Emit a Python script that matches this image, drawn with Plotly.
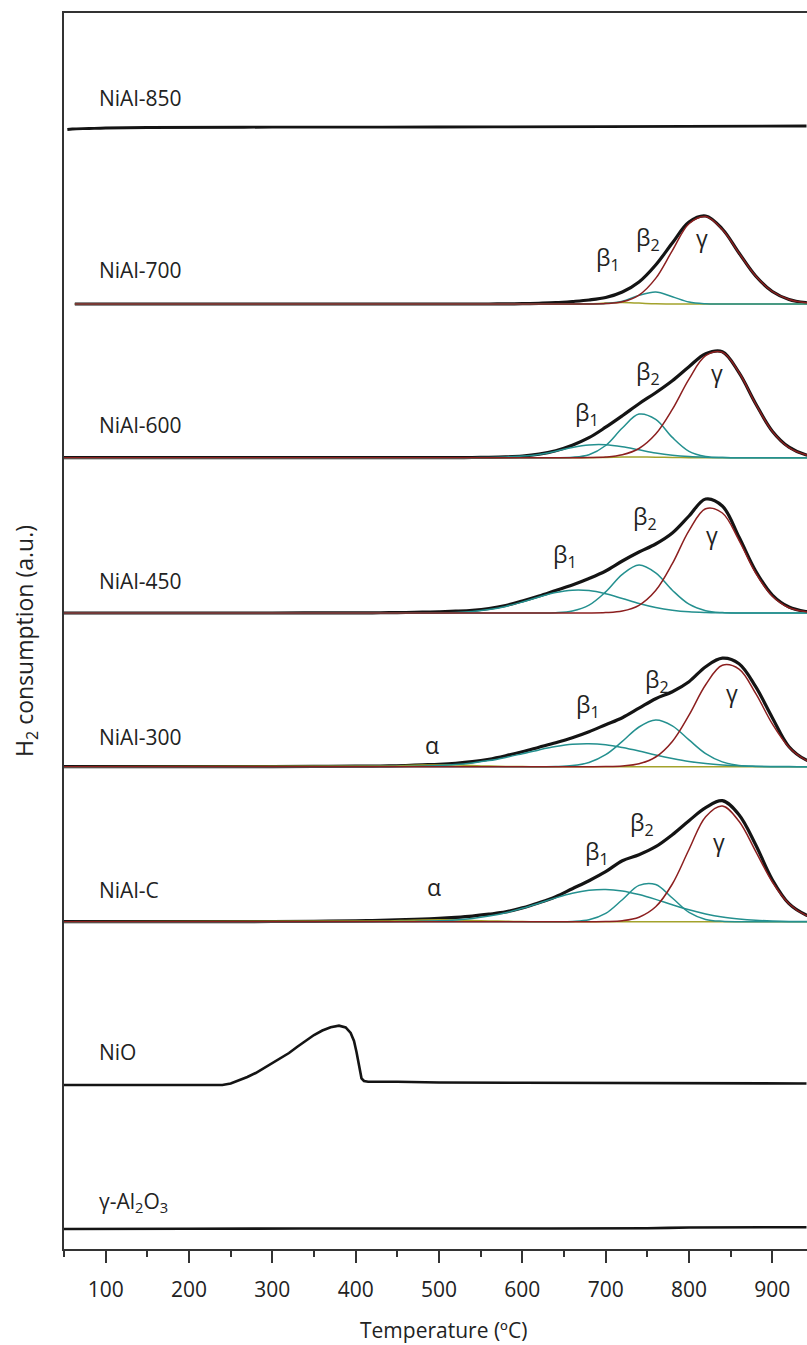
import plotly.graph_objects as go

# ---------------- data ----------------
# temperature grid (°C) of the deconvoluted TPR region
T_fit = [440, 460, 480, 500, 520, 540, 560, 580, 600, 620, 640, 660, 680, 700,
         720, 740, 760, 780, 800, 820, 840, 860, 880, 900, 920, 940, 960]
# low-temperature part of the measured profiles
T_low = [50, 100, 150, 200, 250, 300, 350, 400, 420]

# vertical offsets of the stacked profiles (a.u.)
off_al2o3, off_nio, off_c, off_300, off_450, off_600, off_700, off_850 = 20, 164, 327.3, 482.3, 636, 791.3, 945, 1121.5

# NiAl-C
c_low = [0, 0, 0, 0, 0.1, 0.2, 0.4, 0.8, 1.1]
c_total = [1.5, 2, 2.6, 3.3, 4.3, 5.6, 7.5, 9.8, 13.8, 19, 25, 33, 41, 50, 61, 67, 75, 87, 101, 114, 121, 107, 77, 42, 18, 7, 2]
c_alpha = [0.8, 1.3, 1.7, 1.9, 1.7, 1.3, 0.8, 0.4, 0.15, 0, 0, 0, 0, 0, 0, 0, 0, 0, 0, 0, 0, 0, 0, 0, 0, 0, 0]
c_beta1 = [0.07, 0.17, 0.39, 0.85, 1.7, 3.2, 5.6, 8.9, 13.4, 18.5, 23.8, 28.4, 31.4, 32.3, 30.7, 27.1, 22.3, 16.9, 11.9, 7.8, 4.7, 2.7, 1.4, 0.7, 0.3, 0.1, 0]
c_beta2 = [0, 0, 0, 0, 0, 0, 0, 0, 0, 0, 0, 0.3, 1.9, 8.3, 22, 36.3, 37.2, 23.7, 9.3, 2.3, 0.4, 0, 0, 0, 0, 0, 0]
c_gamma = [0, 0, 0, 0, 0, 0, 0, 0, 0, 0, 0, 0, 0, 0.2, 1, 4.5, 14.9, 37.7, 72.2, 105, 115.7, 100.5, 70.4, 39.7, 18, 6.6, 1.9]

# NiAl-300
n300_low = [0, 0, 0, 0, 0.1, 0.15, 0.3, 0.5, 0.6]
n300_total = [0.8, 1.2, 1.8, 2.4, 3.4, 5, 7.5, 11, 15, 19.5, 24, 29, 35, 42, 49, 58.5, 68, 75, 85, 100, 108.5, 103, 80, 49, 20, 7, 2]
n300_alpha = [0.6, 1.1, 1.6, 1.8, 1.6, 1.1, 0.6, 0.3, 0.1, 0, 0, 0, 0, 0, 0, 0, 0, 0, 0, 0, 0, 0, 0, 0, 0, 0, 0]
n300_beta1 = [0.1, 0.25, 0.55, 1.1, 2.1, 3.8, 6.1, 9.3, 13, 16.8, 20.1, 22.4, 23, 21.9, 19.2, 15.7, 11.8, 8.3, 5.3, 3.2, 1.8, 0.9, 0.4, 0.2, 0.1, 0, 0]
n300_beta2 = [0, 0, 0, 0, 0, 0, 0, 0, 0, 0, 0.2, 1.1, 4.2, 12, 25.3, 39.7, 46.7, 40.9, 26.8, 13.1, 4.8, 1.3, 0.3, 0, 0, 0, 0]
n300_gamma = [0, 0, 0, 0, 0, 0, 0, 0, 0, 0, 0, 0, 0, 0.1, 0.7, 2.9, 9.7, 25.3, 51.6, 82, 101.4, 97.6, 73.3, 42.8, 19.5, 6.9, 1.9]

# NiAl-450
n450_low = [0, 0, 0, 0, 0, 0, 0.05, 0.1, 0.2]
n450_total = [0.3, 0.5, 0.8, 1.2, 1.8, 2.7, 4.5, 7.5, 12, 17, 22.5, 28, 34.5, 42, 52, 61, 69, 80, 97, 114, 107, 76, 42, 18, 6, 1.5, 0.3]
n450_beta1 = [0, 0, 0.1, 0.2, 0.6, 1.6, 3.5, 6.6, 11, 16, 20.4, 22.8, 22.4, 19.2, 14.5, 9.5, 5.5, 2.8, 1.2, 0.5, 0.2, 0, 0, 0, 0, 0, 0]
n450_beta2 = [0, 0, 0, 0, 0, 0, 0, 0, 0, 0, 0.3, 2, 7.8, 21.1, 38.7, 48, 40.2, 22.8, 8.8, 2.3, 0.4, 0, 0, 0, 0, 0, 0]
n450_gamma = [0, 0, 0, 0, 0, 0, 0, 0, 0, 0, 0, 0, 0, 0.4, 2, 7.7, 22.4, 49.3, 82.4, 104.2, 100, 72.7, 40, 16.8, 5.3, 1.3, 0.2]

# NiAl-600
n600_low = [0, 0, 0, 0, 0, 0, 0, 0, 0]
n600_total = [0, 0, 0, 0, 0.1, 0.2, 0.4, 0.8, 1.6, 3.5, 7, 12.5, 20, 30.5, 42, 54, 65, 77, 91, 104, 106, 85, 54, 26.5, 10.5, 3, 0.7]
n600_alpha = [0, 0, 0, 0, 0, 0, 0, 0, 0, 0, 0, 0, 0, 0.3, 0.6, 0.7, 0.5, 0.2, 0, 0, 0, 0, 0, 0, 0, 0, 0]
n600_beta1 = [0, 0, 0, 0, 0, 0, 0.3, 0.8, 1.6, 3.3, 6.5, 10.3, 12.8, 13, 11, 7.9, 4.8, 2.5, 1.1, 0.4, 0.1, 0, 0, 0, 0, 0, 0]
n600_beta2 = [0, 0, 0, 0, 0, 0, 0, 0, 0, 0, 0, 0.4, 3, 12.2, 29.7, 43.6, 38.4, 20.3, 6.4, 1.2, 0.1, 0, 0, 0, 0, 0, 0]
n600_gamma = [0, 0, 0, 0, 0, 0, 0, 0, 0, 0, 0, 0, 0.2, 0.7, 2.9, 9.2, 23.6, 48.3, 78.6, 102, 105.4, 85.2, 53.7, 26.3, 10, 3, 0.7]

# NiAl-700
n700_low = [0, 0, 0, 0, 0, 0, 0, 0, 0]
n700_start = 63
n700_total = [0, 0, 0, 0, 0, 0, 0, 0.1, 0.3, 0.7, 1.3, 2.5, 4, 6.5, 12, 22, 39, 61, 82, 88, 75, 51, 28, 12.5, 4.5, 1.3, 0.3]
n700_beta1 = [0, 0, 0, 0, 0, 0, 0, 0, 0, 0, 0, 0, 0.2, 0.9, 1.5, 0.9, 0.2, 0, 0, 0, 0, 0, 0, 0, 0, 0, 0]
n700_beta2 = [0, 0, 0, 0, 0, 0, 0, 0, 0, 0, 0, 0, 0, 0.4, 2.7, 8.6, 12, 7.3, 1.9, 0.2, 0, 0, 0, 0, 0, 0, 0]
n700_gamma = [0, 0, 0, 0, 0, 0, 0, 0, 0, 0, 0, 0, 0, 0.4, 2.2, 8.9, 25.6, 53.4, 80.3, 87.4, 74.4, 50.9, 28, 12.5, 4.5, 1.3, 0.3]

# NiAl-850 (flat)
n850_T = [54, 60, 80, 100, 150, 300, 500, 700, 941]
n850_h = [-2, -1.5, -1, -0.5, 0, 0.3, 0.5, 0.8, 1.5]

# NiO
nio_T = [50, 200, 240, 250, 260, 270, 280, 290, 300, 310, 320, 330, 340, 350, 360, 370, 380,
         388, 394, 398, 401, 404, 407, 410, 415, 450, 500, 600, 700, 800, 941]
nio_h = [0, 0, 0, 1.5, 4.5, 8, 12, 17, 21.5, 26.8, 32, 38.2, 44, 50, 54.5, 57.8, 59.3,
         57.5, 52, 44, 33, 20, 6.7, 4, 3.3, 3.2, 2.5, 2.2, 2, 1.8, 1.5]

# gamma-Al2O3
al_T = [50, 200, 400, 600, 750, 800, 941]
al_h = [0, 0.3, 0.5, 0.5, 0.8, 1.5, 1.8]

# labels
sample_names = ["NiAl-850", "NiAl-700", "NiAl-600", "NiAl-450", "NiAl-300", "NiAl-C", "NiO",
                "γ-Al<sub>2</sub>O<sub>3</sub>"]
sample_label_y = [1151, 979, 824, 668, 512, 359, 197, 47]
peak_labels = ["β<sub>1</sub>", "β<sub>2</sub>", "γ",
               "β<sub>1</sub>", "β<sub>2</sub>", "γ",
               "β<sub>1</sub>", "β<sub>2</sub>", "γ",
               "α", "β<sub>1</sub>", "β<sub>2</sub>", "γ",
               "α", "β<sub>1</sub>", "β<sub>2</sub>", "γ"]
peak_label_T = [702.8, 750.8, 815.6,
                677.6, 750.8, 833.6,
                651, 747, 827.6,
                491.6, 678.8, 761.6, 851.6,
                494, 689.6, 743.6, 836]
peak_label_y = [991, 1011, 1011,
                836, 877, 876,
                694, 732, 714,
                504, 544, 569, 556,
                362, 397, 426, 407]

# ---------------- styles ----------------
BLACK = "#141414"
RED = "#8c1f1f"
TEAL = "#24908f"
OLIVE = "#a3a22c"
FONT = "Open Sans"

fig = go.Figure()


def add_line(x, y, color, width, shape="spline"):
    fig.add_trace(go.Scatter(x=x, y=y, mode="lines", hoverinfo="skip",
                             line=dict(color=color, width=width, shape=shape, smoothing=1)))


deconv = [
    (off_c, 50, c_low, c_total, [c_alpha, c_beta1, c_beta2, c_gamma]),
    (off_300, 50, n300_low, n300_total, [n300_alpha, n300_beta1, n300_beta2, n300_gamma]),
    (off_450, 50, n450_low, n450_total, [None, n450_beta1, n450_beta2, n450_gamma]),
    (off_600, 50, n600_low, n600_total, [n600_alpha, n600_beta1, n600_beta2, n600_gamma]),
    (off_700, n700_start, n700_low, n700_total, [n700_beta1, None, n700_beta2, n700_gamma]),
]
comp_colors = [OLIVE, TEAL, TEAL, RED]

for off, start, low, total, comps in deconv:
    xb = [start] + T_low[1:] + T_fit
    add_line(xb, [off + v for v in low + total], BLACK, 3.2)
    xc = [start] + T_fit
    for comp, col in zip(comps, comp_colors):
        if comp is None:
            continue
        add_line(xc, [off] + [off + v for v in comp], col, 1.5)

add_line(n850_T, [off_850 + v for v in n850_h], BLACK, 2.8)
add_line(nio_T, [off_nio + v for v in nio_h], BLACK, 2.6, shape="linear")
add_line(al_T, [off_al2o3 + v for v in al_h], BLACK, 2.6)

annotations = []
for name, yv in zip(sample_names, sample_label_y):
    annotations.append(dict(x=89.6, y=yv, xref="x", yref="y", text=name, showarrow=False,
                            xanchor="left", yanchor="middle",
                            font=dict(family=FONT, size=21, color="#222")))
for txt, tx, ty in zip(peak_labels, peak_label_T, peak_label_y):
    annotations.append(dict(x=tx, y=ty, xref="x", yref="y", text=txt, showarrow=False,
                            xanchor="center", yanchor="middle",
                            font=dict(family=FONT, size=23, color="#222")))
annotations.append(dict(x=0.5114, y=-0.0655, xref="paper", yref="paper",
                        text="Temperature (ºC)", showarrow=False,
                        xanchor="center", yanchor="middle",
                        font=dict(family=FONT, size=21, color="#222")))
annotations.append(dict(x=-0.0525, y=0.4919, xref="paper", yref="paper",
                        text="H<sub>2</sub> consumption (a.u.)", showarrow=False, textangle=-90,
                        xanchor="center", yanchor="middle",
                        font=dict(family=FONT, size=23, color="#222")))

fig.update_layout(
    width=807, height=1345,
    margin=dict(l=64, r=0, t=13, b=96),
    plot_bgcolor="white", paper_bgcolor="white",
    showlegend=False,
    annotations=annotations,
    xaxis=dict(range=[50, 941.6], showline=True, linecolor="#333", linewidth=1.5, mirror=True,
               ticks="outside", ticklen=12, tickwidth=1.5, tickcolor="#333",
               tick0=0, dtick=100, showgrid=False, zeroline=False, ticklabelstandoff=9,
               tickfont=dict(family=FONT, size=21, color="#222"),
               minor=dict(ticks="outside", ticklen=6, tickwidth=1.5, tickcolor="#333",
                          tick0=0, dtick=50, showgrid=False)),
    yaxis=dict(range=[0, 1236], showline=True, linecolor="#333", linewidth=1.5,
               ticks="", showticklabels=False, showgrid=False, zeroline=False),
)

fig.write_html("out.html")
